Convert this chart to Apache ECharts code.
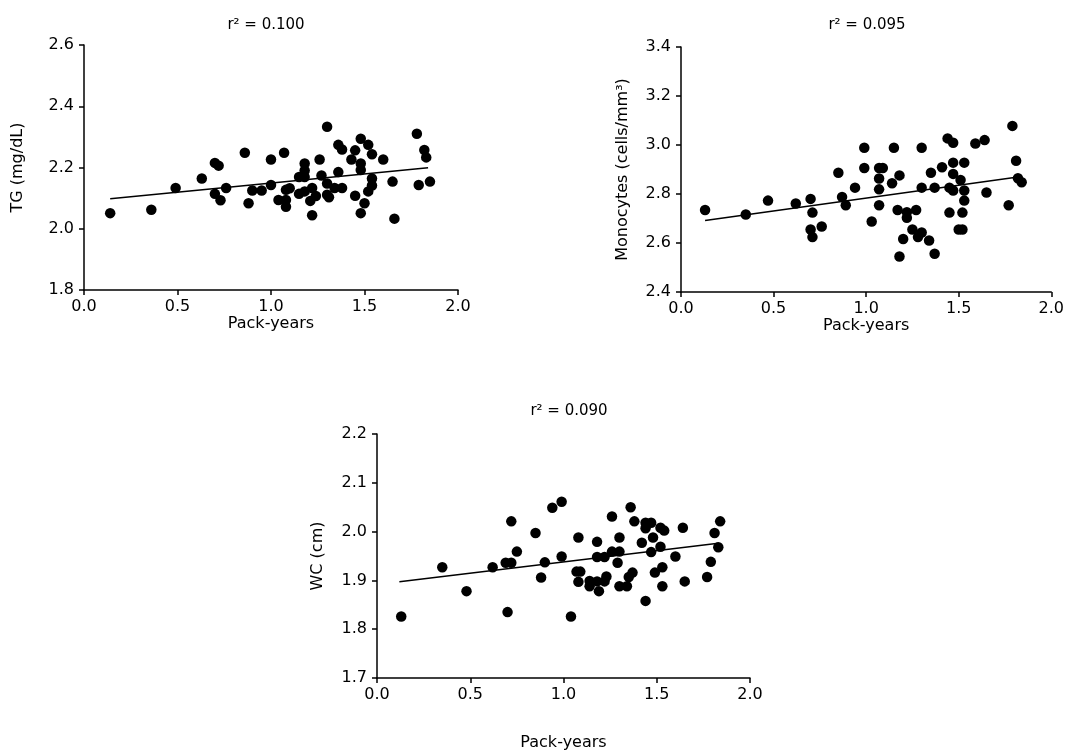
<!DOCTYPE html>
<html>
<head>
<meta charset="utf-8">
<script src="https://cdn.jsdelivr.net/npm/echarts@6/dist/echarts.min.js"></script>
<style>
html,body{margin:0;padding:0;background:#fff;}
#chart{width:1067px;height:753px;}
</style>
</head>
<body>
<div id="chart"></div>
<script>
// ---- Data ----
const titles = ['r\u00B2 = 0.100', 'r\u00B2 = 0.095', 'r\u00B2 = 0.090'];
const yNames = ['TG (mg/dL)', 'Monocytes (cells/mm\u00B3)', 'WC (cm)'];
const xName = 'Pack-years';

const tgX = [0.14,0.36,0.49,0.63,0.70,0.72,0.70,0.73,0.76,0.86,0.88,0.90,0.95,1.00,1.00,1.04,1.07,1.08,1.10,1.08,1.08,1.15,1.18,1.18,1.18,1.15,1.18,1.22,1.21,1.24,1.22,1.26,1.27,1.30,1.30,1.30,1.31,1.34,1.36,1.38,1.36,1.38,1.43,1.45,1.45,1.48,1.48,1.48,1.48,1.50,1.52,1.54,1.54,1.54,1.52,1.60,1.65,1.66,1.78,1.82,1.83,1.79,1.85];
const tgY = [2.051,2.062,2.133,2.164,2.215,2.206,2.114,2.093,2.133,2.248,2.083,2.125,2.125,2.226,2.143,2.094,2.248,2.127,2.132,2.094,2.072,2.169,2.213,2.190,2.169,2.114,2.122,2.133,2.091,2.107,2.044,2.226,2.174,2.333,2.148,2.111,2.103,2.133,2.274,2.259,2.185,2.133,2.226,2.256,2.108,2.294,2.213,2.192,2.051,2.083,2.274,2.243,2.164,2.141,2.122,2.226,2.154,2.033,2.310,2.257,2.233,2.143,2.154];
const tgFitX = [0.14, 1.84];
const tgFitY = [2.098, 2.199];

const monoX = [0.13,0.35,0.47,0.62,0.70,0.71,0.70,0.71,0.76,0.85,0.87,0.89,0.94,0.99,0.99,1.03,1.07,1.07,1.07,1.07,1.09,1.14,1.15,1.18,1.17,1.18,1.20,1.22,1.22,1.25,1.27,1.28,1.30,1.30,1.30,1.34,1.35,1.37,1.37,1.41,1.44,1.47,1.47,1.47,1.45,1.47,1.45,1.51,1.53,1.53,1.52,1.50,1.52,1.53,1.59,1.64,1.65,1.77,1.79,1.81,1.82,1.84];
const monoY = [2.735,2.716,2.773,2.761,2.780,2.724,2.655,2.624,2.667,2.887,2.788,2.754,2.826,2.906,2.989,2.688,2.754,2.819,2.863,2.906,2.906,2.844,2.989,2.876,2.735,2.545,2.616,2.726,2.703,2.655,2.735,2.624,2.643,2.989,2.826,2.610,2.887,2.556,2.826,2.909,3.027,3.009,2.928,2.882,2.826,2.814,2.724,2.857,2.814,2.773,2.724,2.655,2.655,2.928,3.006,3.020,2.806,2.754,3.078,2.936,2.864,2.848];
const monoFitX = [0.13, 1.82];
const monoFitY = [2.692, 2.869];

const wcX = [0.13,0.35,0.48,0.62,0.69,0.72,0.72,0.70,0.75,0.85,0.88,0.90,0.94,0.99,0.99,1.04,1.08,1.07,1.09,1.08,1.14,1.14,1.18,1.18,1.18,1.19,1.22,1.22,1.23,1.26,1.26,1.30,1.30,1.29,1.30,1.34,1.35,1.37,1.36,1.38,1.42,1.44,1.47,1.44,1.48,1.47,1.44,1.49,1.52,1.54,1.52,1.53,1.53,1.60,1.64,1.65,1.77,1.79,1.81,1.83,1.84];
const wcY = [1.826,1.927,1.878,1.927,1.936,1.936,2.021,1.835,1.959,1.997,1.906,1.937,2.049,2.061,1.949,1.826,1.988,1.918,1.918,1.897,1.899,1.888,1.979,1.948,1.898,1.878,1.948,1.898,1.908,2.031,1.959,1.959,1.988,1.936,1.888,1.888,1.907,1.916,2.050,2.021,1.977,2.018,2.018,2.007,1.988,1.958,1.858,1.916,2.008,2.002,1.969,1.927,1.888,1.949,2.008,1.898,1.907,1.938,1.997,1.968,2.021];
const wcFitX = [0.12, 1.83];
const wcFitY = [1.897, 1.976];

const yMin = [1.8, 2.4, 1.7];
const yMax = [2.6, 3.4, 2.2];
const yStep = [0.2, 0.2, 0.1];
const xMin = 0, xMax = 2, xStep = 0.5;

// ---- Build ----
const FONT = 'DejaVu Sans';
const pairs = (xs, ys) => xs.map((x, i) => [x, ys[i]]);
const panels = [
  {x: tgX, y: tgY, fx: tgFitX, fy: tgFitY},
  {x: monoX, y: monoY, fx: monoFitX, fy: monoFitY},
  {x: wcX, y: wcY, fx: wcFitX, fy: wcFitY}
];
const grids = [
  {left: 84, top: 45, width: 374, height: 245},
  {left: 681, top: 47, width: 373, height: 245},
  {left: 377, top: 434, width: 373, height: 244}
];
const yNameGap = [58, 50, 51];
const xNameGap = [25, 25, 57];
const titlePos = [[261, 13], [862, 13], [564, 399]];

const axisLine = {show: true, lineStyle: {color: '#000', width: 1.5}};
const axisTick = {show: true, inside: false, length: 5, lineStyle: {color: '#000', width: 1.5}};
const labelStyle = {color: '#000', fontSize: 16, fontFamily: FONT};

const option = {
  animation: false,
  backgroundColor: '#fff',
  title: titles.map((t, i) => ({
    text: t, left: titlePos[i][0], top: titlePos[i][1], textAlign: 'center',
    textStyle: {fontSize: 15, fontWeight: 'normal', color: '#000', fontFamily: FONT}
  })),
  grid: grids,
  xAxis: grids.map((g, i) => ({
    type: 'value', gridIndex: i, min: xMin, max: xMax, interval: xStep,
    name: xName, nameLocation: 'middle', nameGap: xNameGap[i],
    nameTextStyle: {color: '#000', fontSize: 16, fontFamily: FONT},
    axisLine: axisLine, axisTick: axisTick, splitLine: {show: false},
    axisLabel: Object.assign({margin: 9, formatter: v => v.toFixed(1)}, labelStyle)
  })),
  yAxis: grids.map((g, i) => ({
    type: 'value', gridIndex: i, min: yMin[i], max: yMax[i], interval: yStep[i],
    name: yNames[i], nameLocation: 'middle', nameGap: yNameGap[i], nameRotate: 90,
    nameTextStyle: {color: '#000', fontSize: 16, fontFamily: FONT},
    axisLine: axisLine, axisTick: axisTick, splitLine: {show: false},
    axisLabel: Object.assign({margin: 10, formatter: v => v.toFixed(1)}, labelStyle)
  })),
  series: []
};
panels.forEach((p, i) => {
  option.series.push({
    type: 'scatter', xAxisIndex: i, yAxisIndex: i, data: pairs(p.x, p.y),
    symbol: 'circle', symbolSize: 10.5, itemStyle: {color: '#000', opacity: 1}, z: 3
  });
  option.series.push({
    type: 'line', xAxisIndex: i, yAxisIndex: i, data: pairs(p.fx, p.fy),
    showSymbol: false, lineStyle: {color: '#000', width: 1.5}, z: 2
  });
});

const chart = echarts.init(document.getElementById('chart'), null, {renderer: 'canvas'});
chart.setOption(option);
</script>
</body>
</html>
